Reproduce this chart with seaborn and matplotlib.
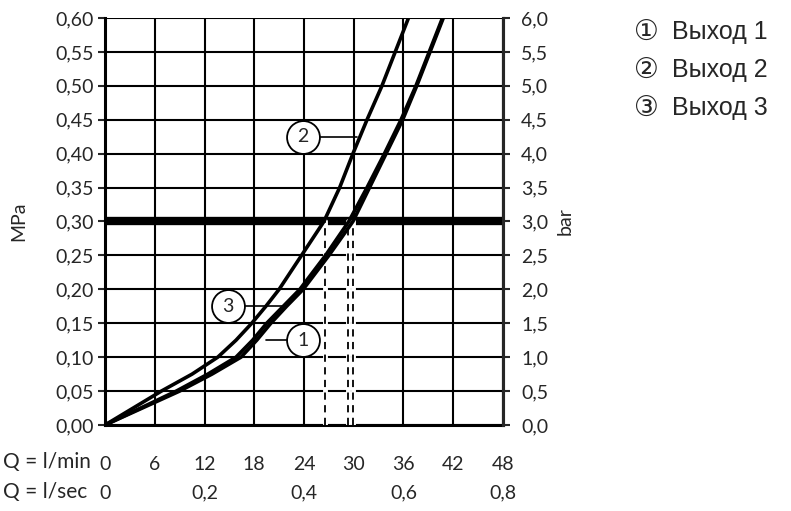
import matplotlib
matplotlib.use('Agg')
import matplotlib.pyplot as plt
import seaborn as sns
import pandas as pd

# давление, МПа
pressure_mpa = [0.00, 0.025, 0.05, 0.075, 0.10, 0.125, 0.15, 0.175, 0.20,
                0.25, 0.30, 0.35, 0.40, 0.45, 0.50, 0.55, 0.60]
# расход, л/мин, для каждого выхода
flow_out1 = [0, 4.5, 9.0, 12.9, 16.4, 18.3, 20.0, 21.9, 23.9,
             27.0, 29.9, 31.9, 33.9, 35.9, 37.6, 39.2, 40.8]
flow_out2 = [0, 3.4, 6.8, 10.5, 13.6, 15.8, 17.7, 19.4, 21.0,
             23.7, 26.4, 28.3, 29.9, 31.6, 33.4, 35.0, 36.6]
flow_out3 = [0, 4.3, 8.6, 12.4, 15.8, 17.8, 19.5, 21.5, 23.5,
             26.6, 29.4, 31.6, 33.7, 35.7, 37.5, 39.1, 40.7]

outlet_names = ['1', '2', '3']
legend_marks = ['①', '②', '③']
legend_labels = ['Выход 1', 'Выход 2', 'Выход 3']

xticks_lmin = [0, 6, 12, 18, 24, 30, 36, 42, 48]
xticks_lsec = [0, 0.2, 0.4, 0.6, 0.8]
yticks_mpa = [0.00, 0.05, 0.10, 0.15, 0.20, 0.25, 0.30, 0.35, 0.40, 0.45, 0.50, 0.55, 0.60]
yticks_bar = [0.0, 0.5, 1.0, 1.5, 2.0, 2.5, 3.0, 3.5, 4.0, 4.5, 5.0, 5.5, 6.0]

ref_pressure = 0.30
flow_at_ref = [26.5, 29.3, 29.9]

# выноски с номерами
callout_text = ['2', '3', '1']
callout_q = [23.9, 14.8, 23.9]
callout_p = [0.425, 0.175, 0.125]
callout_end_q = [30.4, 21.6, 19.4]

df = pd.DataFrame({
    'P': pressure_mpa * 3,
    'Q': flow_out1 + flow_out2 + flow_out3,
    'out': [n for n in outlet_names for _ in pressure_mpa],
})

sns.set_style('white')
plt.rcParams['font.family'] = ['Lato', 'DejaVu Sans']
fs = 14

fig = plt.figure(figsize=(7.91, 5.11), dpi=100)
ax = fig.add_axes([105 / 791, 1 - 425 / 511, 398 / 791, 407 / 511])

# сетка
for q in xticks_lmin:
    ax.axvline(q, color='black', lw=1.5, zorder=1)
for p in yticks_mpa:
    ax.axhline(p, color='black', lw=1.5, zorder=1)
ax.axhline(ref_pressure, color='black', lw=6, zorder=2)

for q in flow_at_ref:
    ax.plot([q, q], [0, ref_pressure], color='white', lw=3.5, zorder=3)
    ax.plot([q, q], [0, ref_pressure], color='black', lw=1.3, ls=(0, (4, 3)), zorder=4)

sns.lineplot(data=df, x='Q', y='P', hue='out', palette=['black'] * 3, orient='y',
             linewidth=2.6, legend=False, ax=ax, zorder=5)

for t, q, p, qe in zip(callout_text, callout_q, callout_p, callout_end_q):
    ax.plot([q, qe], [p, p], color='black', lw=1.2, zorder=6)
    ax.scatter([q], [p], s=560, facecolor='white', edgecolor='black', linewidth=1.3, zorder=7)
    ax.text(q, p, t, ha='center', va='center', fontsize=14, zorder=8)

ax.set_xlim(0, 48)
ax.set_ylim(0, 0.60)
ax.set_xticks(xticks_lmin)
ax.set_xticklabels([str(v) for v in xticks_lmin], fontsize=fs)
ax.set_yticks(yticks_mpa)
ax.set_yticklabels([f'{v:.2f}'.replace('.', ',') for v in yticks_mpa], fontsize=fs)
ax.tick_params(axis='x', direction='inout', length=9, width=1.5, pad=18)
ax.tick_params(axis='y', direction='out', length=5, width=1.5, pad=3)
ax.set_xlabel('')
ax.set_ylabel('MPa', fontsize=fs, labelpad=20)
for side in ['left', 'bottom', 'right']:
    ax.spines[side].set_linewidth(2.2)
    ax.spines[side].set_color('black')
ax.spines['top'].set_visible(False)

ax2 = ax.twinx()
ax2.set_ylim(0, 6)
ax2.set_yticks(yticks_bar)
ax2.set_yticklabels([f'{v:.1f}'.replace('.', ',') for v in yticks_bar], fontsize=fs)
ax2.tick_params(axis='y', direction='out', length=5, width=1.5, pad=8)
ax2.set_ylabel('bar', fontsize=fs, labelpad=6)
for side in ['left', 'top', 'bottom']:
    ax2.spines[side].set_visible(False)
ax2.spines['right'].set_linewidth(2.2)

sec = ax.secondary_xaxis('bottom', functions=(lambda q: q / 60, lambda s: s * 60))
sec.set_xticks(xticks_lsec)
sec.set_xticklabels(['0' if v == 0 else f'{v:.1f}'.replace('.', ',') for v in xticks_lsec], fontsize=fs)
sec.tick_params(length=0, pad=43)
sec.spines['bottom'].set_visible(False)

fig.text(3 / 791, 1 - 462 / 511, 'Q = l/min', fontsize=15, va='center')
fig.text(3 / 791, 1 - 492 / 511, 'Q = l/sec', fontsize=15, va='center')

for i, (m, lab) in enumerate(zip(legend_marks, legend_labels)):
    y = 1 - (32 + 38 * i) / 511
    fig.text(634 / 791, y, m, fontsize=20, va='center', family='DejaVu Sans')
    fig.text(672 / 791, y, lab, fontsize=18, va='center', family='Liberation Sans')

fig.savefig('out.png', dpi=100)
